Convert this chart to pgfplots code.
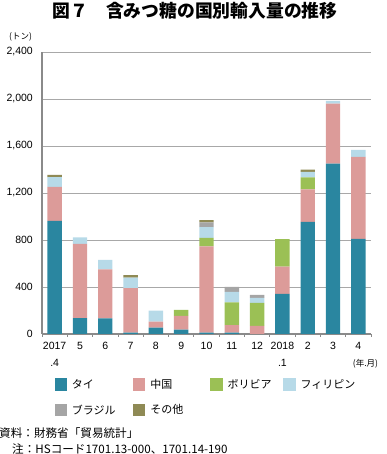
\documentclass[border=0pt]{standalone}
\usepackage{fontspec}
\setmainfont{Liberation Sans}
\newfontfamily\jp{Noto Sans CJK JP}
\usepackage{pgfplots}
\pgfplotsset{compat=1.18}
\definecolor{cThai}{HTML}{2A86A0}
\definecolor{cChina}{HTML}{DC9B99}
\definecolor{cBol}{HTML}{9BC055}
\definecolor{cPhi}{HTML}{B7DAE8}
\definecolor{cBra}{HTML}{A5A5A5}
\definecolor{cOth}{HTML}{8F8A55}
\definecolor{gridgray}{HTML}{A8A8A8}
\definecolor{axisgray}{HTML}{8A8A8A}
\begin{document}
\begin{tikzpicture}[x=1pt,y=1pt]
\path[use as bounding box] (0,0) rectangle (386,454);
\node[font=\jp\bfseries\fontsize{17.8}{17.8}\selectfont] at (195,443) {図７　含みつ糖の国別輸入量の推移};
\node[font=\jp\fontsize{8.5}{8.5}\selectfont, inner sep=0pt] at (20.5,417) {(トン)};
\node[font=\jp\fontsize{8.5}{8.5}\selectfont, inner sep=0pt] at (365.5,90.5) {(年.月)};
\node[anchor=west, inner sep=0pt, font=\jp\fontsize{11.6}{11.6}\selectfont] at (-1,21) {資料：財務省「貿易統計」};
\node[anchor=west, inner sep=0pt, font=\jp\fontsize{11.6}{11.6}\selectfont] at (12,4.5) {注：HSコード1701.13-000、1701.14-190};
\begin{axis}[
  at={(42pt,120pt)}, anchor=south west, scale only axis,
  width=329pt, height=282pt,
  ybar stacked, bar width=14.4pt,
  xmin=-0.5, xmax=12.5, ymin=0, ymax=2400,
  ytick={0,400,...,2400},
  xtick={0,...,12},
  xticklabels={{2017\\.4},5,6,7,8,9,10,11,12,{2018\\.1},2,3,4},
  minor xtick={-0.5,0.5,...,12.5},
  axis x line*=bottom, axis y line*=left,
  x axis line style={-, draw=axisgray, line width=1.2pt},
  y axis line style={-, draw=axisgray, line width=2pt},
  ymajorgrids, grid style={draw=gridgray, line width=0.9pt},
  major tick length=0pt, minor tick length=3pt, tick align=outside,
  minor tick style={draw=axisgray, line width=0.8pt},
  scaled y ticks=false,
  /pgf/number format/.cd, 1000 sep={,}, assume math mode=true, /pgfplots/.cd,
  tick label style={font=\fontsize{10.5}{17}\selectfont},
  yticklabel style={inner sep=0pt, anchor=east, xshift=-9pt},
  xticklabel style={inner sep=0pt, align=center, anchor=north, yshift=-8pt},
  legend columns=4,
  legend cell align=left,
  legend image code/.code={\path[#1,draw=none] (0pt,-6.2pt) rectangle (12.4pt,6.2pt);},
  legend style={at={(0.0374,-0.157)}, anchor=north west, draw=none, fill=none, inner sep=0pt,
    nodes={inner sep=0pt}, font=\jp\fontsize{11}{11}\selectfont,
    /tikz/every odd column/.append style={column sep=5pt}, row sep=13pt},
]
\addplot[fill=cThai, draw=none] coordinates {(0,963) (1,135) (2,132) (3,12) (4,55) (5,37) (6,12) (7,12) (8,0) (9,341) (10,955) (11,1451) (12,809)};
\addlegendentry{\makebox[61pt][l]{タイ}}
\addplot[fill=cChina, draw=none] coordinates {(0,289) (1,633) (2,418) (3,378) (4,51) (5,118) (6,733) (7,63) (8,69) (9,232) (10,275) (11,509) (12,699)};
\addlegendentry{\makebox[60pt][l]{中国}}
\addplot[fill=cBol, draw=none] coordinates {(0,0) (1,0) (2,0) (3,0) (4,0) (5,51) (6,74) (7,194) (8,195) (9,234) (10,103) (11,0) (12,0)};
\addlegendentry{\makebox[55.5pt][l]{ボリビア}}
\addplot[fill=cPhi, draw=none] coordinates {(0,83) (1,55) (2,80) (3,89) (4,92) (5,0) (6,90) (7,89) (8,43) (9,0) (10,46) (11,25) (12,60)};
\addlegendentry{フィリピン}
\addplot[fill=cBra, draw=none] coordinates {(0,0) (1,0) (2,0) (3,0) (4,0) (5,0) (6,40) (7,43) (8,26) (9,0) (10,0) (11,0) (12,0)};
\addlegendentry{ブラジル}
\addplot[fill=cOth, draw=none] coordinates {(0,20) (1,0) (2,0) (3,23) (4,0) (5,0) (6,20) (7,0) (8,0) (9,0) (10,20) (11,0) (12,0)};
\addlegendentry{その他}
\end{axis}
\end{tikzpicture}
\end{document}
